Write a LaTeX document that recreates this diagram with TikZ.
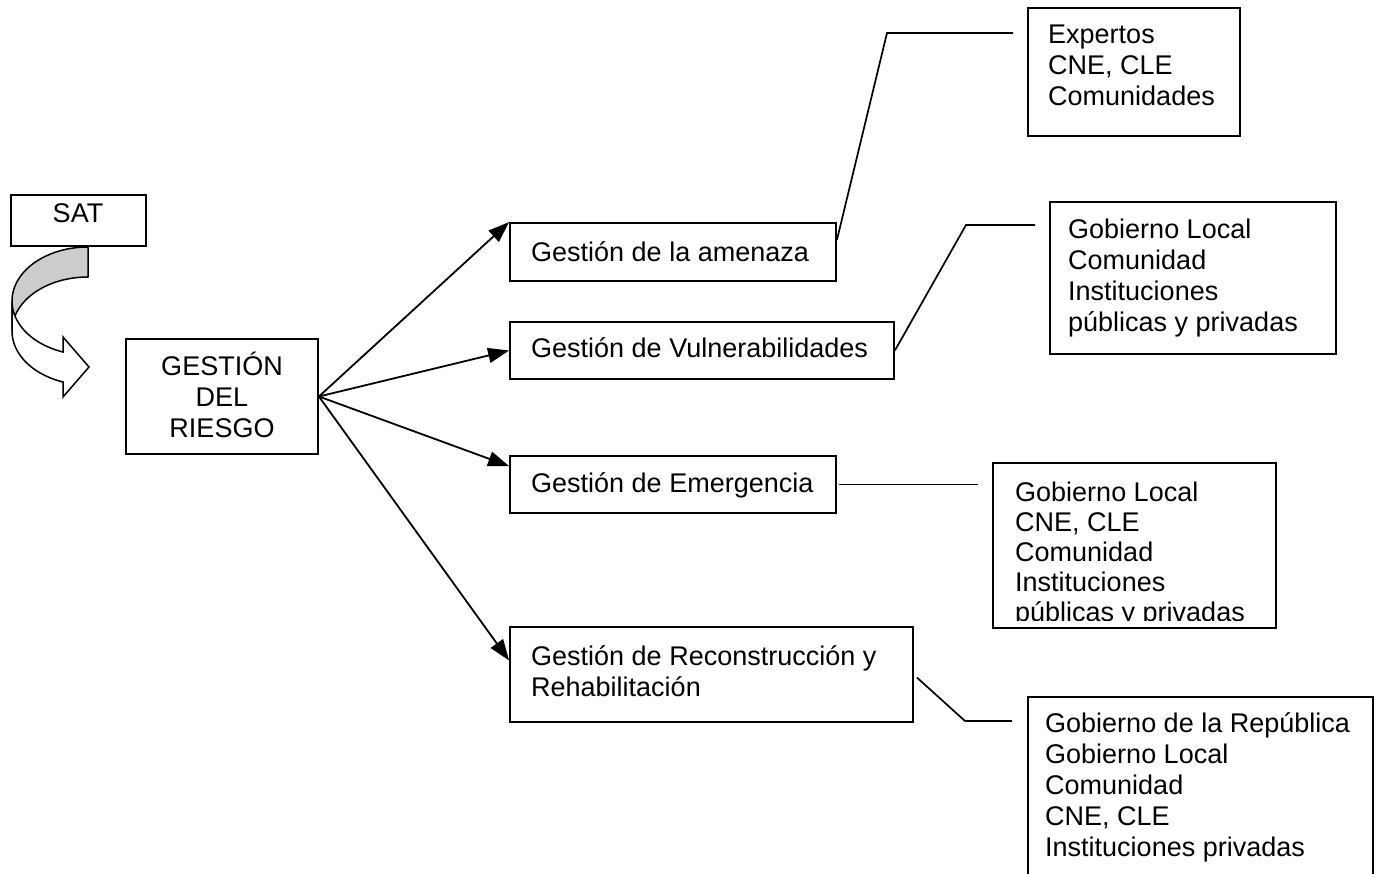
\documentclass[tikz,border=0pt]{standalone}
\usepackage{fontspec}
\setmainfont{Liberation Sans}
\usetikzlibrary{arrows.meta,calc}
\newcommand{\fl}{\rule{0pt}{26pt}}
\begin{document}
\begin{tikzpicture}[x=1pt,y=-1pt,
  box/.style={draw,line width=1.8pt,rectangle,inner sep=0pt},
  txt/.style={inner sep=0pt,align=left,font=\fontsize{27pt}{31pt}\selectfont},
  tight/.style={font=\fontsize{27pt}{30pt}\selectfont},
  link/.style={line width=1.7pt},
  arr/.style={line width=1.8pt,-{Triangle[length=21pt,width=15pt]}},
  curvearrow/.style={line width=1.5pt}
]
\useasboundingbox (0,0) rectangle (1379,874);

% boxes
\node[box,minimum width=135pt,minimum height=51pt] (sat) at (78.5,220.5) {};
\node[box,minimum width=192pt,minimum height=115pt] (gr) at (222,396.5) {};
\node[box,minimum width=326pt,minimum height=58pt] (amen) at (673,252) {};
\node[box,minimum width=384pt,minimum height=57pt] (vul) at (702,350.5) {};
\node[box,minimum width=326pt,minimum height=57pt] (eme) at (673,484.5) {};
\node[box,minimum width=403pt,minimum height=95pt] (rec) at (711.5,674.5) {};
\node[box,minimum width=212pt,minimum height=128pt] (exp) at (1134,72) {};
\node[box,minimum width=286pt,minimum height=152pt] (gl) at (1193,278) {};
\node[box,minimum width=283pt,minimum height=165pt] (ea) at (1134.5,545.5) {};
\begin{scope}
  \clip (0,0) rectangle (1379,874);
  \node[box,minimum width=345pt,minimum height=220pt] (bot) at (1200.5,807) {};
\end{scope}

% curved arrow from SAT
\filldraw[curvearrow,fill=gray!40]
  plot[domain=0:90,samples=40] ({88+76*cos(270-\x)},{301+54*sin(270-\x)})
  -- plot[domain=180:270,samples=40] ({88+76*cos(\x)},{331+54*sin(\x)})
  -- cycle;
\filldraw[curvearrow,fill=white]
  plot[domain=0:70.8,samples=30] ({88+76*cos(180-\x)},{301+54*sin(180-\x)})
  -- (63,337) -- (89,367) -- (63,397)
  -- plot[domain=109.2:180,samples=30] ({88+76*cos(\x)},{331+54*sin(\x)})
  -- cycle;

% texts
\node[txt,anchor=base] (tsat) at (78,223) {SAT};
\node[txt,anchor=north,align=center] (tgr) at (222,349) {\fl GESTIÓN\\DEL\\RIESGO};
\node[txt,anchor=base west] (tamen) at (531,262) {Gestión de la amenaza};
\node[txt,anchor=base west] (tvul) at (531,358) {Gestión de Vulnerabilidades};
\node[txt,anchor=base west] (teme) at (531,492) {Gestión de Emergencia};
\node[txt,anchor=north west] (trec) at (531,639) {\fl Gestión de Reconstrucción y\\Rehabilitación};
\node[txt,anchor=north west] (texp) at (1048,17) {\fl Expertos\\CNE, CLE\\Comunidades};
\node[txt,anchor=north west] (tgl) at (1068,212) {\fl Gobierno Local\\Comunidad\\Instituciones\\públicas y privadas};
\begin{scope}
  \clip (993,463) rectangle (1276,620);
  \node[txt,tight,anchor=north west] (tea) at (1015,475) {\fl Gobierno Local\\CNE, CLE\\Comunidad\\Instituciones\\públicas y privadas};
\end{scope}
\node[txt,anchor=north west] (tbot) at (1045,706) {\fl Gobierno de la República\\Gobierno Local\\Comunidad\\CNE, CLE\\Instituciones privadas};

% arrows from GESTION DEL RIESGO
\draw[arr] (gr.east) -- (amen.north west);
\draw[arr] (gr.east) -- (vul.west);
\draw[arr] (gr.east) -- ([yshift=-11pt]eme.north west);
\draw[arr] (gr.east) -- ([yshift=14pt]rec.west);

% connectors to actor boxes
\coordinate (a1) at (887,33);
\coordinate (a2) at (1013,33);
\draw[link] ([yshift=12pt]amen.east) -- (a1) -- (a2);
\coordinate (v1) at (966,225);
\coordinate (v2) at (1035,225);
\draw[link] (vul.east) -- (v1) -- (v2);
\coordinate (e1) at (978,484.5);
\draw[link] ([xshift=2pt]eme.east) -- (e1);
\coordinate (r1) at (965,721);
\coordinate (r2) at (1012,721);
\draw[link] ([xshift=3pt,yshift=-3pt]rec.east) -- (r1) -- (r2);
\end{tikzpicture}
\end{document}
